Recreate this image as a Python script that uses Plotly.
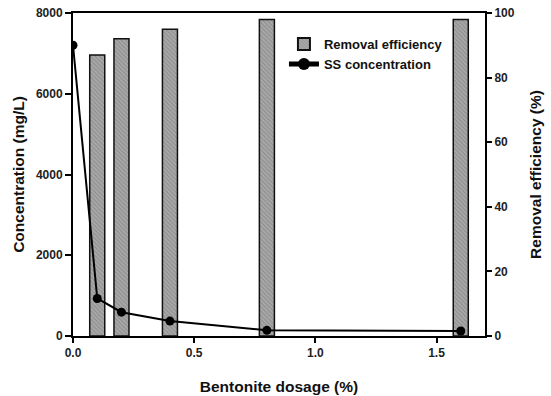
import plotly.graph_objects as go

dosage = [0.0, 0.1, 0.2, 0.4, 0.8, 1.6]
ss_conc = [7200, 930, 590, 370, 140, 125]
bar_dosage = [0.1, 0.2, 0.4, 0.8, 1.6]
removal_eff = [87, 92, 95, 98, 98]

font_family = "Liberation Sans, Arial, sans-serif"

fig = go.Figure()
fig.add_trace(go.Bar(
    x=bar_dosage, y=removal_eff, width=0.062, name="Removal efficiency",
    marker=dict(color="#a8a8a8", line=dict(color="#111111", width=1.5),
                pattern=dict(shape="\\", fgcolor="#6a6a6a", size=3, solidity=0.3)),
    yaxis="y",
))
fig.add_trace(go.Scatter(
    x=dosage, y=ss_conc, mode="lines+markers", name="SS concentration",
    line=dict(color="black", width=2), marker=dict(color="black", size=9),
    yaxis="y2",
))

axis_font = dict(family=font_family, size=12, color="#222222", weight="bold")
title_font = dict(family=font_family, size=15.5, color="#111111", weight="bold")

fig.update_layout(
    width=551, height=396,
    margin=dict(l=73, r=66, t=13, b=60, autoexpand=False),
    plot_bgcolor="white", paper_bgcolor="white",
    font=dict(family=font_family, color="#111111"),
    showlegend=True,
    legend=dict(x=0.512, y=0.95, xanchor="left", yanchor="top",
                bgcolor="rgba(0,0,0,0)", font=dict(family=font_family, size=13, color="#111111", weight="bold"),
                tracegroupgap=0, itemsizing="constant"),
    xaxis=dict(range=[0, 1.7], tickvals=[0, 0.5, 1.0, 1.5], tickformat=".1f",
               showline=True, linecolor="black", linewidth=2, mirror=True,
               ticks="outside", ticklen=5, tickwidth=2, tickcolor="black",
               showgrid=False, zeroline=False, tickfont=axis_font, automargin=False,
               title=dict(text="Bentonite dosage (%)", font=title_font, standoff=22)),
    yaxis=dict(range=[0, 100], tickvals=[0, 20, 40, 60, 80, 100], side="right",
               showline=True, linecolor="black", linewidth=2,
               ticks="outside", ticklen=5, tickwidth=2, tickcolor="black",
               showgrid=False, zeroline=False, tickfont=axis_font, automargin=False,
               title=dict(text="Removal efficiency (%)", font=title_font, standoff=16)),
    yaxis2=dict(range=[0, 8000], tickvals=[0, 2000, 4000, 6000, 8000], side="left", overlaying="y",
                showline=True, linecolor="black", linewidth=2,
                ticks="outside", ticklen=6, tickwidth=2, tickcolor="black",
                showgrid=False, zeroline=False, tickfont=axis_font, automargin=False,
                title=dict(text="Concentration (mg/L)", font=title_font, standoff=7)),
)

fig.write_html("out.html")
